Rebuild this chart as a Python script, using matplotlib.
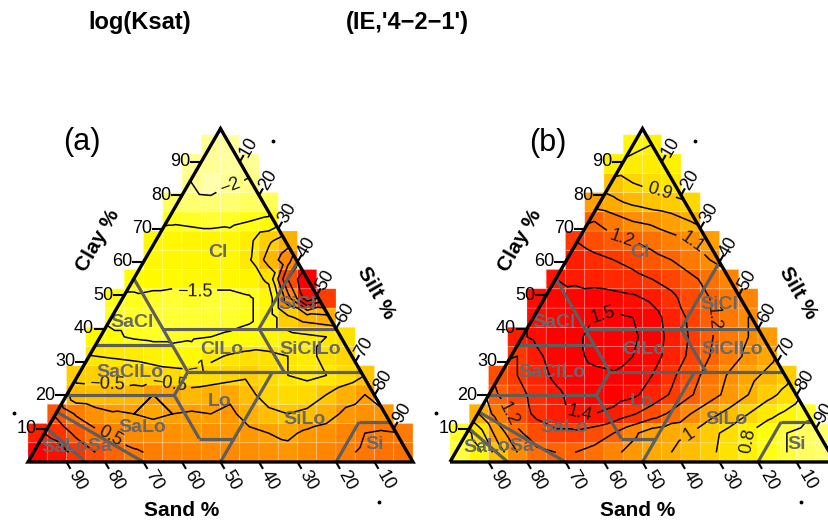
import numpy as np
import matplotlib
matplotlib.use("Agg")
import matplotlib.pyplot as plt
from matplotlib.colors import LinearSegmentedColormap, Normalize
from matplotlib.patches import Polygon

plt.rcParams['font.family'] = ['Liberation Sans', 'DejaVu Sans']

# ---------------- data ----------------
titles = ["log(Ksat)", "(IE,'4\u22122\u22121')"]
panel_tags = ["(a)", "(b)"]

# Grid cells (5 % wide), rows listed from the apex (top) down to the base;
# each row is centred inside 20 columns.
ksat_rows = [
    [-2.05, -2.1],
    [-2.05, -2.05, -2.08, -2.05],
    [-2.0, -2.15, -2.02, -1.98],
    [-1.85, -1.9, -1.92, -1.9, -1.85, -1.8],
    [-1.55, -1.6, -1.65, -1.6, -1.5, -1.4],
    [-1.3, -1.3, -1.25, -1.25, -1.3, -1.1, -0.6, -0.2],
    [-1.3, -1.3, -1.3, -1.3, -1.3, -1.05, -0.3, 0.3],
    [-1.4, -1.35, -1.35, -1.3, -1.3, -1.3, -1.25, -0.9, 1.0, 2.0],
    [-1.55, -1.55, -1.6, -1.65, -1.6, -1.65, -1.65, -1.55, -1.3, 0.3, 1.8, 1.2],
    [-1.6, -1.6, -1.62, -1.65, -1.65, -1.65, -1.62, -1.55, -1.3, -0.6, -0.3, -0.2],
    [-1.35, -1.45, -1.55, -1.6, -1.6, -1.55, -1.5, -1.45, -1.4, -1.3, -1.2, -1.1, -1.0, -0.9],
    [-1.0, -1.05, -1.1, -1.2, -1.3, -1.35, -1.1, -0.95, -0.85, -0.9, -1.0, -1.1, -0.9, -0.7],
    [-0.6, -0.62, -0.65, -0.7, -0.75, -0.8, -0.85, -0.8, -0.7, -0.6, -0.8, -1.0, -1.1, -1.0, -0.8, -0.5],
    [-0.35, -0.4, -0.35, -0.3, 0.0, -0.1, -0.3, -0.2, -0.1, -0.4, -0.7, -0.8, -0.75, -0.5, -0.2, 0.0],
    [0.9, 0.45, 0.2, 0.05, 0.0, -0.1, 0.0, 0.05, 0.0, 0.1, -0.2, -0.4, -0.5, -0.4, -0.2, 0.1, 0.2, 0.1],
    [1.6, 1.3, 0.9, 0.6, 0.4, 0.3, 0.25, 0.2, 0.15, 0.2, 0.15, 0.1, 0.0, -0.1, 0.1, 0.2, 0.35, 0.5, 0.55, 0.5],
    [2.0, 1.8, 1.3, 1.0, 0.75, 0.55, 0.45, 0.4, 0.35, 0.3, 0.3, 0.25, 0.2, 0.15, 0.25, 0.35, 0.45, 0.55, 0.6, 0.6],
]

ie_rows = [
    [0.78, 0.8],
    [0.8, 0.82, 0.82, 0.8],
    [0.95, 0.9, 0.87, 0.84],
    [1.05, 1.02, 0.98, 0.95, 0.93, 0.9],
    [1.2, 1.15, 1.1, 1.08, 1.05, 1.0],
    [1.3, 1.25, 1.22, 1.2, 1.17, 1.13, 1.1, 1.05],
    [1.37, 1.33, 1.3, 1.27, 1.23, 1.2, 1.15, 1.1],
    [1.4, 1.38, 1.36, 1.34, 1.33, 1.3, 1.27, 1.22, 1.17, 1.12],
    [1.42, 1.43, 1.44, 1.45, 1.44, 1.42, 1.38, 1.32, 1.26, 1.2, 1.15, 1.12],
    [1.42, 1.44, 1.47, 1.5, 1.52, 1.5, 1.44, 1.36, 1.28, 1.21, 1.15, 1.1],
    [1.38, 1.42, 1.45, 1.48, 1.53, 1.55, 1.52, 1.45, 1.37, 1.29, 1.21, 1.15, 1.1, 1.06],
    [1.3, 1.38, 1.44, 1.48, 1.52, 1.54, 1.5, 1.44, 1.36, 1.28, 1.2, 1.14, 1.08, 1.03],
    [1.25, 1.3, 1.36, 1.42, 1.46, 1.48, 1.49, 1.46, 1.4, 1.32, 1.24, 1.16, 1.09, 1.03, 0.98, 0.93],
    [1.2, 1.27, 1.33, 1.38, 1.43, 1.45, 1.45, 1.42, 1.36, 1.29, 1.21, 1.14, 1.07, 1.0, 0.93, 0.87],
    [1.0, 1.15, 1.25, 1.32, 1.37, 1.4, 1.4, 1.37, 1.31, 1.25, 1.18, 1.1, 1.03, 0.97, 0.9, 0.83, 0.78, 0.72],
    [0.72, 0.85, 1.05, 1.18, 1.25, 1.28, 1.28, 1.25, 1.2, 1.12, 1.05, 1.02, 1.0, 0.93, 0.87, 0.8, 0.74, 0.7, 0.67, 0.66],
    [0.7, 0.78, 0.95, 1.1, 1.18, 1.2, 1.2, 1.17, 1.12, 1.07, 1.02, 1.0, 0.97, 0.92, 0.86, 0.8, 0.74, 0.7, 0.67, 0.66],
]

ksat_levels = [-2, -1.5, -1, -0.5, 0, 0.5, 1, 1.5]
ie_levels = [0.7, 0.8, 0.9, 1.0, 1.1, 1.2, 1.3, 1.4, 1.5]
ksat_range = (-2.2, 2.0)
ie_range = (0.6, 1.45)

tick_values = [10, 20, 30, 40, 50, 60, 70, 80, 90]

class_names = ["Cl", "SiCl", "SaCl", "ClLo", "SiClLo", "SaClLo", "Lo", "SiLo", "SaLo", "Si", "LoSa", "Sa"]
class_clay = [62.9, 47.1, 41.7, 33.6, 33.6, 26.7, 18.0, 12.6, 10.2, 5.1, 4.5, 4.2]
class_silt = [18.0, 46.5, 6.2, 33.6, 56.4, 13.2, 40.9, 65.6, 24.5, 87.6, 13.4, 4.4]

# USDA class boundaries: (clay, silt) -> (clay, silt)
bound_clay_a = [55, 35, 40, 40, 27, 27, 27, 20, 20, 20, 7, 27, 12, 12, 15, 10]
bound_silt_a = [0, 0, 15, 40, 28, 28, 53, 28, 0, 28, 41, 50, 80, 80, 0, 0]
bound_clay_b = [35, 35, 40, 60, 27, 35, 40, 27, 20, 7, 7, 0, 12, 0, 0, 0]
bound_silt_b = [20, 20, 60, 40, 73, 20, 40, 28, 28, 41, 50, 50, 88, 80, 30, 15]

# ---------------- figure ----------------
W, H = 829, 521
fig = plt.figure(figsize=(W / 100, H / 100), dpi=100)
SC = 3.85
S3 = np.sqrt(3) / 2

cmap = LinearSegmentedColormap.from_list(
    'heatr', [(0.0, '#FFFFB8'), (0.1, '#FFFF50'), (0.18, '#FFFF00'), (0.35, '#FFD800'),
              (0.5, '#FFA800'), (0.65, '#FF7800'), (0.82, '#FF3800'), (1.0, '#FF0000')])


def ter(clay, silt):
    clay = np.asarray(clay, float)
    silt = np.asarray(silt, float)
    return silt + clay / 2.0, clay * S3


def fmt(v):
    return ('%g' % v).replace('-', '\u2212')


def make_ax(ox, oy):
    X0, X1, Y0, Y1 = -12, 112, -20, 100
    left = (ox + SC * X0) / W
    bottom = (H - oy + SC * Y0) / H
    ax = fig.add_axes([left, bottom, SC * (X1 - X0) / W, SC * (Y1 - Y0) / H])
    ax.set_xlim(X0, X1)
    ax.set_ylim(Y0, Y1)
    ax.axis('off')
    ax.patch.set_visible(False)
    return ax


def draw_panel(ax, rows, levels, vrange, label_pos, sand_label_x):
    nrows = len(rows)
    Z = np.full((nrows, 20), np.nan)
    for r, vals in enumerate(rows):
        j = nrows - 1 - r
        i0 = (20 - len(vals)) // 2
        Z[j, i0:i0 + len(vals)] = vals
    xe = np.arange(21) * 5.0
    ye = np.arange(nrows + 1) * 5.0
    norm = Normalize(vmin=vrange[0], vmax=vrange[1])
    ax.pcolor(xe, ye, np.ma.masked_invalid(Z), cmap=cmap, norm=norm,
              edgecolors=(1, 1, 1, 0.3), linewidth=0.5, zorder=1)

    jj, ii = np.nonzero(~np.isnan(Z))
    xs = ii * 5.0 + 2.5
    ys = jj * 5.0 + 2.5
    zs = Z[jj, ii]
    tri = Polygon([(0, 0), (100, 0), (50, 100 * S3)], closed=True,
                  transform=ax.transData, fill=False)
    cs = ax.tricontour(xs, ys, zs, levels=levels, colors='black',
                       linewidths=1.1, linestyles='solid', zorder=2)
    cs.set_clip_path(tri)
    labs = ax.clabel(cs, manual=label_pos, inline=True, fmt=fmt, fontsize=13,
                     colors='#1a1a1a')
    for t in labs:
        t.set_zorder(3)

    # texture class boundaries
    xa, ya = ter(bound_clay_a, bound_silt_a)
    xb, yb = ter(bound_clay_b, bound_silt_b)
    for k in range(len(xa)):
        ax.plot([xa[k], xb[k]], [ya[k], yb[k]], color='#5e5e5e', lw=2.3,
                solid_capstyle='butt', zorder=4)
    cx, cy = ter(class_clay, class_silt)
    for name, x, y in zip(class_names, cx, cy):
        ax.text(x, y, name, ha='center', va='center', fontsize=14,
                fontweight='bold', color='#686868', zorder=5)

    # outline
    ax.add_patch(Polygon([(0, 0), (100, 0), (50, 100 * S3)], closed=True,
                         fill=False, edgecolor='black', lw=2.4,
                         joinstyle='miter', zorder=8))

    # ticks
    for v in tick_values:
        # clay (left edge)
        px, py = v / 2.0, v * S3
        ax.plot([px, px - 2.6], [py, py], color='black', lw=1.5, zorder=8,
                clip_on=False)
        ax.text(px - 2.8, py, str(v), ha='right', va='center', fontsize=13,
                zorder=8, clip_on=False)
        # silt (right edge)
        px, py = 50 + v / 2.0, (100 - v) * S3
        d = np.array([0.5, S3])
        ax.plot([px, px + 1.8 * d[0]], [py, py + 1.8 * d[1]], color='black',
                lw=1.5, zorder=8, clip_on=False)
        ax.text(px + 4.6 * d[0], py + 4.6 * d[1], str(v), rotation=60,
                ha='center', va='center', fontsize=13, zorder=8, clip_on=False)
        # sand (base)
        px, py = 100.0 - v, 0.0
        d = np.array([0.5, -S3])
        ax.plot([px, px + 1.8 * d[0]], [py, py + 1.8 * d[1]], color='black',
                lw=1.5, zorder=8, clip_on=False)
        ax.text(px + 5.5 * d[0], py + 5.5 * d[1], str(v), rotation=-60,
                ha='center', va='center', fontsize=13, zorder=8, clip_on=False)

    ax.plot([63.6, -3.7, 91.2], [83.3, 12.7, -10.4], 'k.', ms=3.5,
            clip_on=False, zorder=8)

    ax.text(18.2, 57.4, 'Clay %', rotation=60, ha='center', va='center',
            fontsize=15, fontweight='bold', clip_on=False)
    ax.text(90.4, 43.9, 'Silt %', rotation=-60, ha='center', va='center',
            fontsize=15, fontweight='bold', clip_on=False)
    ax.text(sand_label_x, -12.6, 'Sand %', ha='center', va='center',
            fontsize=15, fontweight='bold', clip_on=False)


ax_a = make_ax(28, 462)
draw_panel(ax_a, ksat_rows, ksat_levels, ksat_range,
           [(43.4, 43.4), (43.9, 25.7), (20.5, 19.5), (36.4, 17.9),
            (22.6, 9.1), (53.2, 68.8)], 39.9)

ax_b = make_ax(450, 462)
draw_panel(ax_b, ie_rows, ie_levels, ie_range,
           [(53.8, 68.1), (61.6, 55.8), (44.2, 55.8), (40.8, 34.3),
            (33.8, 12.7), (15.6, 12.7), (63.1, 5.7), (80.5, 5.5),
            (70.1, 37.7)], 48.8)

title_font = ['Liberation Sans', 'DejaVu Sans']
fig.text(140 / W, 1 - 22 / H, titles[0], ha='center', va='center',
         fontsize=17, fontweight='bold', family=title_font)
fig.text(407 / W, 1 - 22 / H, titles[1], ha='center', va='center',
         fontsize=17, fontweight='bold', family=title_font)
fig.text(82 / W, 1 - 142 / H, panel_tags[0], ha='center', va='center',
         fontsize=22)
fig.text(548 / W, 1 - 143 / H, panel_tags[1], ha='center', va='center',
         fontsize=22)

fig.savefig('out.png', dpi=100)
